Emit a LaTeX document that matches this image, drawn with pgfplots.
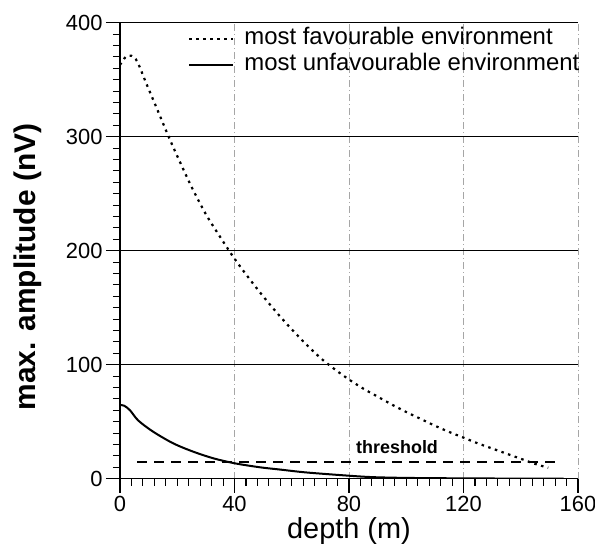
\documentclass[border=0pt]{standalone}
\usepackage{fontspec}
\setmainfont{Liberation Sans}
\usepackage{pgfplots}
\pgfplotsset{compat=1.18}
\begin{document}
\begin{tikzpicture}
\begin{axis}[
  name=ax,
  scale only axis,
  width=458bp, height=456bp,
  xmin=0, xmax=160, ymin=0, ymax=400,
  axis x line=bottom, axis y line=left,
  axis line style={-, line width=1.3bp, black},
  xtick={0,40,80,120,160}, ytick={0,100,200,300,400},
  minor x tick num=9, minor y tick num=9,
  tick align=outside,
  major tick length=14bp, minor tick length=7bp,
  every tick/.style={black, line width=1.1bp},
  xmajorgrids, ymajorgrids,
  major x grid style={gray!70, line width=0.7bp, dash pattern=on 7bp off 3bp on 1bp off 3bp},
  major y grid style={black, line width=1.3bp, solid},
  /pgf/number format/assume math mode=true,
  ticklabel style={font=\fontsize{22}{24}\selectfont},
  xlabel={depth (m)},
  ylabel={max. amplitude (nV)},
  xlabel style={font=\fontsize{29}{32}\selectfont, at={(axis description cs:0.5,-0.114)}, anchor=center},
  ylabel style={font=\bfseries\fontsize{30}{32}\selectfont, at={(axis description cs:-0.201,0.464)}, anchor=center},
  legend style={at={(axis description cs:0.1485,0.994)}, anchor=north west, draw=none, fill=none,
    font=\fontsize{24}{26}\selectfont, inner sep=0pt, row sep=0bp,
    nodes={text height=17bp, text depth=5bp}},
  legend cell align=left,
  legend image code/.code={\draw[#1] (0bp,0bp) -- (44bp,0bp); \path (52bp,0bp);},
]
\addplot[black, line width=2.2bp, dash pattern=on 2.5bp off 4.5bp, smooth] coordinates {
(0,363) (2,370) (4,371) (6,366) (9.3,346) (13,324) (17,300) (20,283) (25,256) (30,232) (35,212)
(40,193) (45,176) (50,160) (55,145) (60,131) (65,118) (70,106) (75,96) (80,87) (85,79) (90,72)
(95,65) (100,58.5) (105,52.5) (110,46.5) (115,41) (120,36) (125,31) (130,26.5) (135,22)
(140,17.5) (145,13) (149.6,9.6)
};
\addlegendentry{most favourable environment}
\addplot[black, line width=2bp, smooth] coordinates {
(0,64.6) (1.5,64) (3.5,60) (6.4,51) (11.6,41.2) (18.6,31) (25.6,23.7) (32.6,17.9) (40.1,13.5)
(48.9,10) (56,8) (65,5.5) (79,2.8) (88,1.4) (100,0.7) (120,0.3) (140,0.1) (155,0.05)
};
\addlegendentry{most unfavourable environment}
\addplot[black, line width=2bp, dash pattern=on 10bp off 7bp, forget plot] coordinates {(6,15) (153,15)};
\node[font=\bfseries\fontsize{18}{20}\selectfont] at (axis cs:96.8,28) {threshold};
\end{axis}
\pgfresetboundingbox
\path ([shift={(-120bp,-77.3bp)}]ax.south west) rectangle ([shift={(17bp,22.7bp)}]ax.north east);
\end{tikzpicture}
\end{document}
